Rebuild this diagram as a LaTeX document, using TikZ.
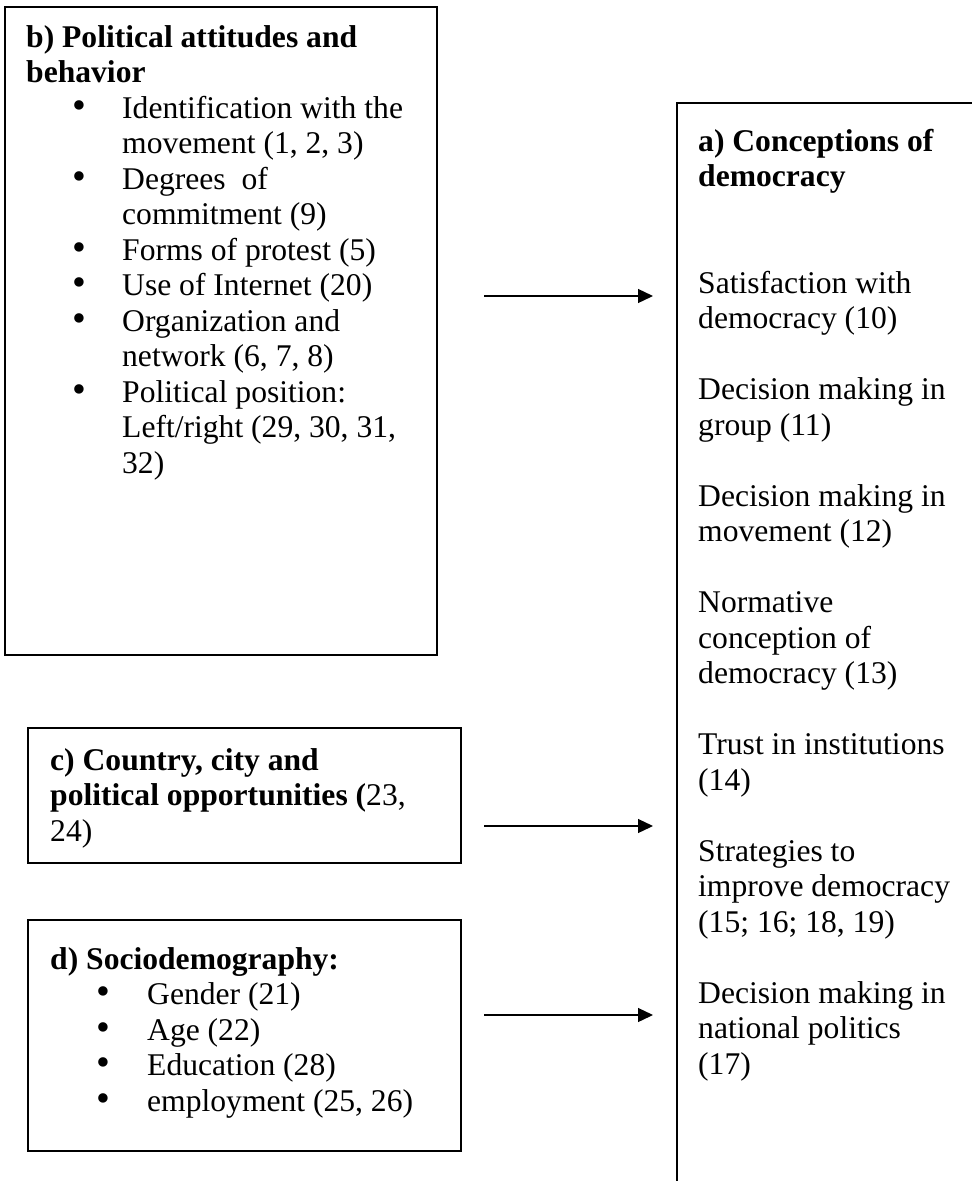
\documentclass[tikz,border=0pt]{standalone}
\usepackage{fontspec}
\setmainfont{Liberation Serif}
\usetikzlibrary{arrows.meta}
\newcommand{\firstln}{\rule{0pt}{25pt}}
\newcommand{\bul}[1]{\makebox[#1][l]{\hspace{46pt}\scalebox{1.25}{\textbullet}}}
\begin{document}
\begin{tikzpicture}[x=1pt,y=-1pt,
  box/.style={draw=black,line width=1.6pt,anchor=north west,inner sep=0pt,outer sep=0pt},
  txt/.style={anchor=north west,align=left,inner sep=0pt,font=\fontsize{31.6}{35.5}\selectfont},
  conn/.style={line width=1.3pt,-{Triangle[length=15pt,width=14pt]}}]
\useasboundingbox (0,0) rectangle (972,1181);
\clip (0,0) rectangle (972,1181);
\fill[white] (0,0) rectangle (972,1181);
% boxes
\node[box,minimum width=432pt,minimum height=648pt] (b) at (5,7) {};
\node[box,minimum width=400pt,minimum height=1200pt] (a) at (677,103) {};
\node[box,minimum width=433pt,minimum height=135pt] (c) at (28,728) {};
\node[box,minimum width=433pt,minimum height=231pt] (d) at (28,920) {};
% texts (node top = first baseline - 25)
\node[txt] (bt) at (26,22) {\firstln\textbf{b) Political attitudes and}\\
\textbf{behavior}\\
\bul{96pt}Identification with the\\
\hspace*{96pt}movement (1, 2, 3)\\
\bul{96pt}Degrees~ of\\
\hspace*{96pt}commitment (9)\\
\bul{96pt}Forms of protest (5)\\
\bul{96pt}Use of Internet (20)\\
\bul{96pt}Organization and\\
\hspace*{96pt}network (6, 7, 8)\\
\bul{96pt}Political position:\\
\hspace*{96pt}Left/right (29, 30, 31,\\
\hspace*{96pt}32)};
\node[txt] (at) at (698,126) {\firstln\textbf{a) Conceptions of}\\
\textbf{democracy}\\
\mbox{}\\
\mbox{}\\
Satisfaction with\\
democracy (10)\\
\mbox{}\\
Decision making in\\
group (11)\\
\mbox{}\\
Decision making in\\
movement (12)\\
\mbox{}\\
Normative\\
conception of\\
democracy (13)\\
\mbox{}\\
Trust in institutions\\
(14)\\
\mbox{}\\
Strategies to\\
improve democracy\\
(15; 16; 18, 19)\\
\mbox{}\\
Decision making in\\
national politics\\
(17)};
\node[txt] (ct) at (50,745) {\firstln\textbf{c) Country, city and}\\
\textbf{political opportunities (}23,\\
24)};
\node[txt] (dt) at (50,944) {\firstln\textbf{d) Sociodemography:}\\
\bul{97pt}Gender (21)\\
\bul{97pt}Age (22)\\
\bul{97pt}Education (28)\\
\bul{97pt}employment (25, 26)};
% connectors
\coordinate (b1) at (484,296);
\coordinate (a1) at (653,296);
\coordinate (c1) at (484,826);
\coordinate (a2) at (653,826);
\coordinate (d1) at (484,1015);
\coordinate (a3) at (653,1015);
\draw[conn] (b1) -- (a1);
\draw[conn] (c1) -- (a2);
\draw[conn] (d1) -- (a3);
\end{tikzpicture}
\end{document}
